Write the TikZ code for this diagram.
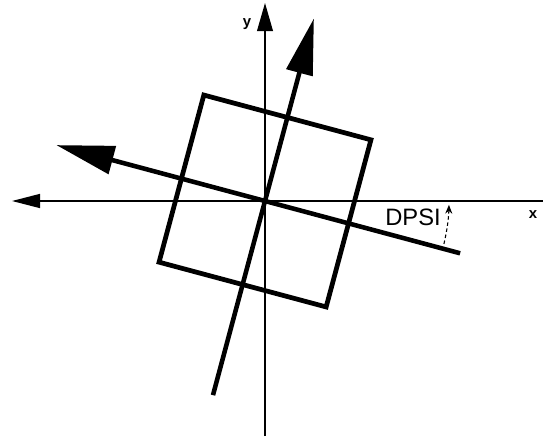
\documentclass[tikz,border=0pt]{standalone}
\usepackage{fontspec}
\setmainfont{Liberation Sans}
\usetikzlibrary{arrows.meta}

\begin{document}
\begin{tikzpicture}[x=0.02cm, y=0.02cm, line join=miter]
    \useasboundingbox (-265,-235) rectangle (278,201);
    \coordinate (O) at (0,0);
    \coordinate (XL) at (-253,0);
    \coordinate (XR) at (278,0);
    \coordinate (YT) at (0,198);
    \coordinate (YB) at (0,-235);
    \draw[line width=0.8pt, -{Triangle[length=16pt,width=8pt]}] (XR) -- (XL);
    \draw[line width=0.8pt, -{Triangle[length=16pt,width=9pt]}] (YB) -- (YT);
    \node[font=\bfseries\fontsize{8.5}{9}\selectfont] (x) at (268,-14) {x};
    \node[font=\bfseries\fontsize{8.5}{9}\selectfont] (y) at (-18,177) {y};
    \begin{scope}[rotate=-15]
        \coordinate (A) at (-86.5,-86.5);
        \coordinate (B) at (86.5,86.5);
        \coordinate (XPL) at (-216,0);
        \coordinate (XPR) at (202,0);
        \coordinate (YPT) at (0,189);
        \coordinate (YPB) at (0,-201);
        \draw[line width=2.7pt] (A) rectangle (B);
        \draw[line width=2.6pt, -{Triangle[length=33pt,width=16pt]}] (XPR) -- (XPL);
        \draw[line width=2.6pt, -{Triangle[length=32pt,width=15pt]}] (YPB) -- (YPT);
    \end{scope}
    \coordinate (P) at (-13.5:184);
    \draw[line width=0.6pt, dash pattern=on 2pt off 1.5pt, -{Stealth[length=5pt,width=4pt]}] (P) arc[start angle=-13.5, end angle=-1.2, radius=3.68cm];
    \node[font=\fontsize{13.5}{16}\selectfont] (dpsi) at (148,-16) {DPSI};
\end{tikzpicture}
\end{document}
